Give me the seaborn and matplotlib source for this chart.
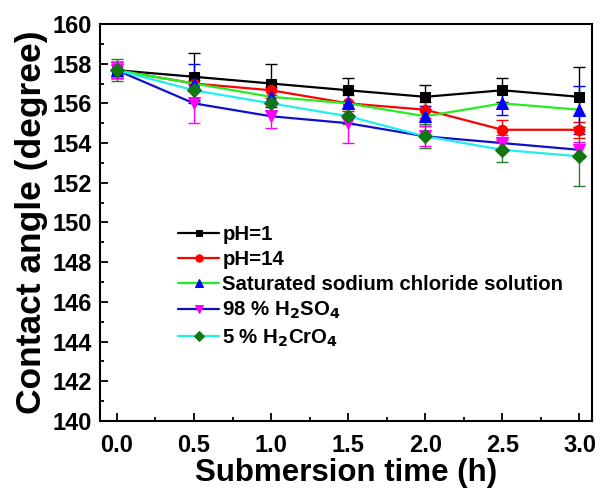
import matplotlib
matplotlib.use("Agg")
import matplotlib.pyplot as plt
import seaborn as sns
import numpy as np
import pandas as pd
from matplotlib.ticker import MultipleLocator

sns.set_theme(style="ticks")
plt.rcParams['font.family'] = ['Liberation Sans', 'DejaVu Sans']
plt.rcParams['font.weight'] = 'bold'
plt.rcParams['mathtext.default'] = 'bf'
for k in ['text.color', 'axes.labelcolor', 'xtick.color', 'ytick.color', 'axes.edgecolor']:
    plt.rcParams[k] = 'black'

time_h = [0.0, 0.5, 1.0, 1.5, 2.0, 2.5, 3.0]
ph1 = [157.67, 157.34, 157.0, 156.66, 156.33, 156.66, 156.33]
ph1_err = [0.4, 1.2, 1.0, 0.6, 0.6, 0.6, 1.5]
ph14 = [157.67, 157.0, 156.66, 156.0, 155.68, 154.67, 154.67]
ph14_err = [0.4, 0.4, 0.4, 0.4, 0.4, 0.5, 0.4]
nacl = [157.67, 157.0, 156.33, 156.0, 155.35, 156.0, 155.68]
nacl_err = [0.4, 1.0, 0.5, 0.6, 0.5, 0.6, 1.2]
h2so4 = [157.67, 156.0, 155.35, 155.0, 154.34, 154.0, 153.66]
h2so4_err = [0.4, 1.0, 0.6, 1.0, 0.5, 0.4, 0.4]
h2cro4 = [157.67, 156.66, 156.0, 155.35, 154.34, 153.66, 153.33]
h2cro4_err = [0.55, 0.5, 0.4, 0.4, 0.6, 0.6, 1.5]

labels = ["pH=1", "pH=14", "Saturated sodium chloride solution",
          "98 % H$_2$SO$_4$", "5 % H$_2$CrO$_4$"]
series = [ph1, ph14, nacl, h2so4, h2cro4]
errors = [ph1_err, ph14_err, nacl_err, h2so4_err, h2cro4_err]
line_colors = ["black", "#ff0000", "#22ee22", "#1010cc", "#22eeee"]
marker_colors = ["black", "#ff0000", "#0000ff", "#ff00ff", "#117711"]
err_colors = ["black", "#ff0000", "#0000ff", "#ff00ff", "#2e7a2e"]
markers = ["s", "o", "^", "v", "D"]
msizes = [6.5, 7.5, 8, 8, 7.5]

fig = plt.figure(figsize=(6.02, 4.92), dpi=100)
ax = fig.add_axes([0.166, 0.1443, 0.817, 0.807])

for lab, ys, es, lc, mc, ec, mk, ms in zip(labels, series, errors, line_colors,
                                          marker_colors, err_colors, markers, msizes):
    df = pd.DataFrame({"t": time_h, "v": ys})
    ax.errorbar(time_h, ys, yerr=es, fmt="none", ecolor=ec, elinewidth=1.0,
                capsize=4, capthick=1.0, zorder=2)
    sns.lineplot(data=df, x="t", y="v", ax=ax, color=lc, marker=mk,
                 markersize=ms, markerfacecolor=mc, markeredgecolor=mc,
                 linewidth=1.6, label=lab, zorder=3)

ax.set_xlim(-0.11, 3.08)
ax.set_ylim(140, 160)
ax.xaxis.set_major_locator(MultipleLocator(0.5))
ax.xaxis.set_minor_locator(MultipleLocator(0.25))
ax.yaxis.set_major_locator(MultipleLocator(2))
ax.yaxis.set_minor_locator(MultipleLocator(1))
ax.xaxis.set_major_formatter(matplotlib.ticker.FormatStrFormatter('%.1f'))
ax.tick_params(axis='both', which='major', direction='in', length=6, width=1.3,
               labelsize=17, top=False, right=False, colors='black')
ax.tick_params(axis='x', which='major', pad=9)
ax.tick_params(axis='y', which='major', pad=6)
ax.tick_params(axis='both', which='minor', direction='in', length=3, width=1.3,
               top=False, right=False, colors='black')
for lbl in ax.get_xticklabels() + ax.get_yticklabels():
    lbl.set_fontweight('bold')
for sp in ax.spines.values():
    sp.set_linewidth(1.5)
    sp.set_color('black')

ax.set_xlabel("Submersion time (h)", fontsize=22.5, fontweight='bold', labelpad=1)
ax.set_ylabel("Contact angle (degree)", fontsize=25.5, fontweight='bold', labelpad=3)

leg = ax.legend(loc='upper left', bbox_to_anchor=(0.143, 0.515), frameon=False,
                fontsize=14.7, handlelength=2.0, handletextpad=0.15,
                labelspacing=0.3, borderaxespad=0, markerscale=0.7)
for t in leg.get_texts():
    t.set_fontweight('bold')
    t.set_color('black')

fig.savefig("out.png", dpi=100)
